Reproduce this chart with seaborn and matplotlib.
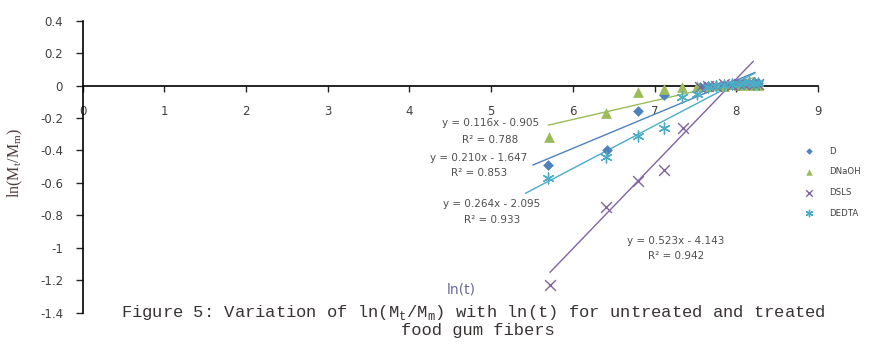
import numpy as np
import pandas as pd
import matplotlib
matplotlib.use("Agg")
import matplotlib.pyplot as plt
import seaborn as sns

# ---------------- data ----------------
series_names = ["D", "DNaOH", "DSLS", "DEDTA"]
cluster_x = [7.55, 7.65, 7.75, 7.85, 7.95, 8.03, 8.1, 8.16, 8.22, 8.27]

d_x = [5.70, 6.42, 6.80, 7.12] + cluster_x
d_y = [-0.49, -0.40, -0.155, -0.06, -0.01, 0.0, 0.0, 0.005, 0.01, 0.01, 0.015, 0.01, 0.02, 0.015]

naoh_x = [5.71, 6.41, 6.80, 7.12, 7.34, 7.52] + cluster_x[1:]
naoh_y = [-0.316, -0.17, -0.04, -0.02, -0.01, -0.005, 0.0, 0.005, 0.0, 0.01, 0.005, 0.01, 0.005, 0.01, 0.005]

sls_x = [5.72, 6.40, 6.80, 7.12, 7.35] + cluster_x
sls_y = [-1.23, -0.75, -0.59, -0.52, -0.26, -0.01, 0.0, 0.0, 0.01, 0.005, 0.01, 0.01, 0.015, 0.01, 0.01]

edta_x = [5.70, 6.40, 6.80, 7.12, 7.34, 7.52] + cluster_x[1:]
edta_y = [-0.57, -0.44, -0.31, -0.26, -0.07, -0.05, -0.01, 0.0, 0.005, 0.01, 0.01, 0.015, 0.02, 0.01, 0.015]

slopes = [0.210, 0.116, 0.523, 0.264]
intercepts = [-1.647, -0.905, -4.143, -2.095]
r2 = [0.853, 0.788, 0.942, 0.933]
trend_start = [5.51, 5.70, 5.72, 5.42]
trend_end = [8.23, 8.23, 8.21, 8.23]

x_ticks = list(range(0, 10))
y_ticks = [0.4, 0.2, 0, -0.2, -0.4, -0.6, -0.8, -1, -1.2, -1.4]

# ---------------- style ----------------
sns.set_style("white")
plt.rcParams["font.family"] = ["DejaVu Sans"]
plt.rcParams["mathtext.fontset"] = "custom"
plt.rcParams["mathtext.rm"] = "Liberation Mono"
plt.rcParams["mathtext.sf"] = "Liberation Serif"

colors = ["#4F81BD", "#9BBB59", "#8064A2", "#4BACC6"]
asterisk = (6, 2, 0)
markers = ["D", "^", "x", asterisk]
sizes = [30, 60, 60, 60]
text_col = "#404040"

fig = plt.figure(figsize=(8.74, 3.45), dpi=100)
ax = fig.add_axes([82.5 / 874, 1 - 312.7 / 345, (818 - 82.5) / 874, 292 / 345])

xs = [d_x, naoh_x, sls_x, edta_x]
ys = [d_y, naoh_y, sls_y, edta_y]

# trend lines first
for i in range(4):
    tx = np.array([trend_start[i], trend_end[i]])
    ty = slopes[i] * tx + intercepts[i]
    sns.lineplot(x=tx, y=ty, ax=ax, color=colors[i], linewidth=1.0, legend=False, zorder=2)

for i in range(4):
    df = pd.DataFrame({"x": xs[i], "y": ys[i]})
    m = markers[i]
    kw = dict(marker=m, s=sizes[i], color=colors[i], zorder=3, label=series_names[i])
    if m == "x" or isinstance(m, tuple):
        kw["linewidth"] = 1.0
    else:
        kw["linewidth"] = 0
    sns.scatterplot(data=df, x="x", y="y", ax=ax, **kw)

ax.set_xlim(0, 9)
ax.set_ylim(-1.4, 0.4)
ax.set_xticks(x_ticks)
ax.set_yticks(y_ticks)
ax.set_yticklabels([f"{v:g}" for v in y_ticks])
ax.spines["top"].set_visible(False)
ax.spines["right"].set_visible(False)
ax.spines["bottom"].set_position(("data", 0))
for s in ("bottom", "left"):
    ax.spines[s].set_linewidth(1.2)
    ax.spines[s].set_color("black")
ax.tick_params(axis="x", direction="out", length=4, width=1, pad=10,
               labelsize=8.5, labelcolor=text_col, bottom=True)
ax.tick_params(axis="y", direction="out", length=5, width=1, pad=9,
               labelsize=8.5, labelcolor=text_col, left=True)
ax.set_xlabel("")
ax.set_ylabel(r"$\mathsf{ln(M}_\mathsf{t}\mathsf{/M}_\mathsf{m}\mathsf{)}$", fontsize=11.5,
              color="#4d3a3a")
ax.yaxis.set_label_coords((25 - 82.5) / 735.5, (312.7 - 163) / 292)

# equation annotations
eq_pos = [(4.85, -0.447, -0.539), (4.99, -0.228, -0.336), (7.26, -0.957, -1.051), (5.01, -0.731, -0.829)]
for i in range(4):
    ex, ey, ry = eq_pos[i]
    sgn = "-" if intercepts[i] < 0 else "+"
    ax.text(ex, ey, f"y = {slopes[i]:.3f}x {sgn} {abs(intercepts[i]):.3f}",
            ha="center", va="center", fontsize=7.5, color="#505050")
    ax.text(ex, ry, f"R\u00b2 = {r2[i]:.3f}", ha="center", va="center",
            fontsize=7.5, color="#505050")

ax.text(4.64, -1.255, "ln(t)", ha="center", va="center", fontsize=10, color="#6a6a9a")

leg = ax.legend(loc="upper left", bbox_to_anchor=(796 / 874, 1 - 139 / 345),
                bbox_transform=fig.transFigure, frameon=False, fontsize=6.2,
                labelspacing=1.35, handlelength=1.2, handletextpad=1.8,
                markerscale=0.6)
for t in leg.get_texts():
    t.set_color(text_col)

fig.text(473 / 874, 1 - 312 / 345,
         r"Figure 5: Variation of ln(M$_\mathrm{t}$/M$_\mathrm{m}$) with ln(t) for untreated and treated",
         ha="center", va="center", fontsize=12.3, family="Liberation Mono", color="#3a3333")
fig.text(478 / 874, 1 - 331 / 345, "food gum fibers", ha="center", va="center",
         fontsize=12.3, family="Liberation Mono", color="#3a3333")

fig.savefig("out.png", dpi=100)
